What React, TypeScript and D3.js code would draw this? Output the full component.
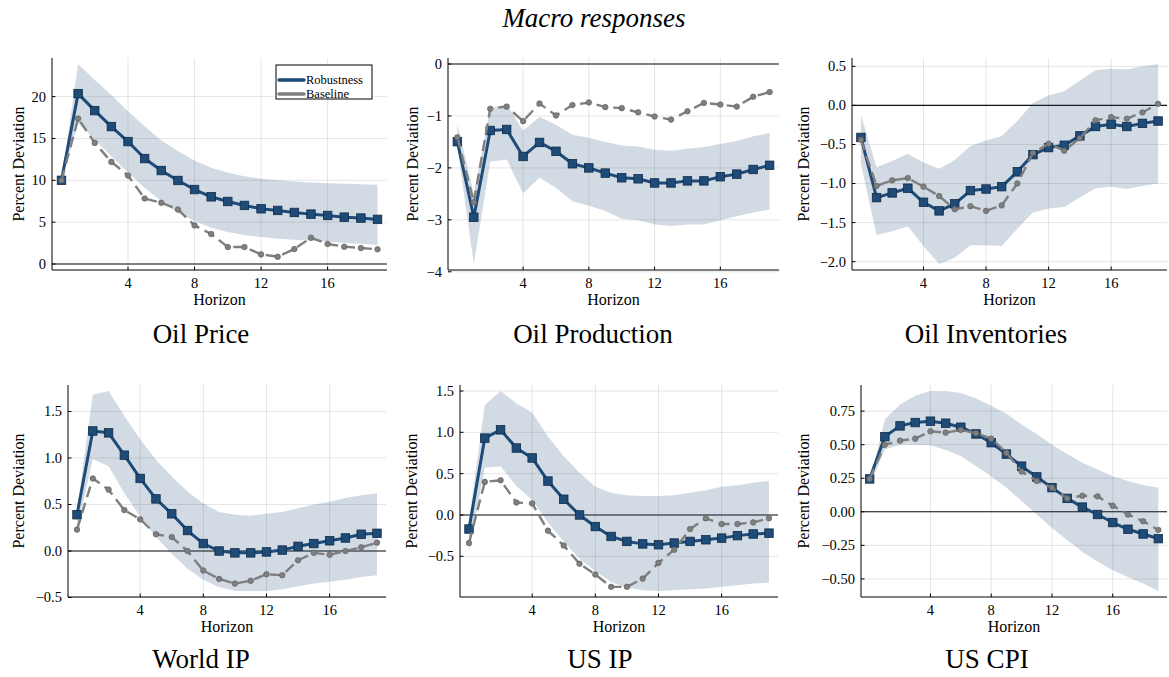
import React from "react";
import * as d3 from "d3";

// ---------- data ----------
const horizons = [0, 1, 2, 3, 4, 5, 6, 7, 8, 9, 10, 11, 12, 13, 14, 15, 16, 17, 18, 19];
const xTicks = [4, 8, 12, 16];
const titles = ["Oil Price", "Oil Production", "Oil Inventories", "World IP", "US IP", "US CPI"];
const seriesNames = ["Robustness", "Baseline"];

// Oil Price
const oilPriceRobust = [10.0, 20.36, 18.33, 16.42, 14.63, 12.6, 11.17, 9.98, 8.9, 8.03, 7.47, 7.0, 6.6, 6.4, 6.16, 5.96, 5.8, 5.6, 5.49, 5.33];
const oilPriceBase = [10.0, 17.38, 14.47, 12.2, 10.58, 7.83, 7.32, 6.52, 4.61, 3.58, 2.03, 2.03, 1.15, 0.87, 1.79, 3.14, 2.39, 2.07, 1.91, 1.75];
const oilPriceUpper = [10.0, 23.9, 22.0, 20.2, 18.25, 16.46, 14.75, 13.5, 12.37, 11.5, 10.9, 10.5, 10.18, 10.0, 9.86, 9.74, 9.66, 9.58, 9.54, 9.46];
const oilPriceLower = [10.0, 16.86, 14.87, 12.88, 10.9, 9.1, 7.5, 6.12, 5.13, 4.33, 3.82, 3.46, 3.22, 3.02, 2.9, 2.78, 2.66, 2.54, 2.43, 2.27];
const oilPriceTicks = [0, 5, 10, 15, 20];

// Oil Production
const oilProdRobust = [-1.495, -2.95, -1.28, -1.26, -1.78, -1.51, -1.68, -1.92, -2.0, -2.1, -2.19, -2.21, -2.29, -2.29, -2.25, -2.25, -2.17, -2.12, -2.03, -1.95];
const oilProdBase = [-1.41, -2.66, -0.86, -0.82, -1.1, -0.76, -0.99, -0.79, -0.74, -0.83, -0.85, -0.93, -1.01, -1.07, -0.91, -0.75, -0.78, -0.82, -0.63, -0.54];
const oilProdUpper = [-1.15, -2.5, -0.84, -0.78, -1.28, -1.02, -1.17, -1.36, -1.42, -1.5, -1.57, -1.59, -1.65, -1.67, -1.63, -1.6, -1.54, -1.48, -1.39, -1.33];
const oilProdLower = [-1.6, -3.85, -1.88, -1.84, -2.49, -2.19, -2.38, -2.64, -2.73, -2.83, -2.98, -3.01, -3.09, -3.12, -3.09, -3.09, -3.01, -2.93, -2.86, -2.8];
const oilProdTicks = [-4, -3, -2, -1, 0];

// Oil Inventories
const oilInvRobust = [-0.41, -1.18, -1.12, -1.06, -1.24, -1.35, -1.26, -1.09, -1.07, -1.04, -0.85, -0.63, -0.54, -0.51, -0.39, -0.27, -0.24, -0.27, -0.23, -0.2];
const oilInvBase = [-0.44, -1.03, -0.96, -0.93, -1.04, -1.16, -1.33, -1.29, -1.35, -1.28, -1.0, -0.61, -0.49, -0.58, -0.42, -0.19, -0.15, -0.17, -0.09, 0.02];
const oilInvUpper = [-0.12, -0.79, -0.71, -0.62, -0.73, -0.81, -0.7, -0.52, -0.45, -0.39, -0.2, 0.03, 0.13, 0.18, 0.32, 0.45, 0.47, 0.46, 0.5, 0.53];
const oilInvLower = [-0.75, -1.66, -1.61, -1.55, -1.8, -2.03, -1.95, -1.79, -1.79, -1.8, -1.58, -1.37, -1.32, -1.3, -1.18, -1.06, -1.04, -1.07, -1.03, -1.0];
const oilInvTicks = [-2.0, -1.5, -1.0, -0.5, 0.0, 0.5];

// World IP
const worldIpRobust = [0.39, 1.29, 1.27, 1.03, 0.78, 0.56, 0.4, 0.22, 0.08, 0.0, -0.02, -0.02, -0.01, 0.01, 0.05, 0.08, 0.11, 0.14, 0.18, 0.19];
const worldIpBase = [0.23, 0.78, 0.66, 0.44, 0.34, 0.18, 0.15, 0.0, -0.21, -0.3, -0.35, -0.32, -0.25, -0.26, -0.1, -0.02, -0.04, 0.0, 0.04, 0.09];
const worldIpUpper = [0.44, 1.68, 1.72, 1.45, 1.2, 0.98, 0.8, 0.64, 0.51, 0.42, 0.39, 0.38, 0.4, 0.42, 0.46, 0.5, 0.53, 0.57, 0.6, 0.62];
const worldIpLower = [0.22, 0.99, 0.91, 0.62, 0.37, 0.15, -0.03, -0.19, -0.31, -0.39, -0.43, -0.43, -0.43, -0.41, -0.38, -0.35, -0.33, -0.31, -0.28, -0.26];
const worldIpTicks = [-0.5, 0.0, 0.5, 1.0, 1.5];

// US IP
const usIpRobust = [-0.17, 0.93, 1.03, 0.81, 0.69, 0.41, 0.19, 0.0, -0.14, -0.26, -0.32, -0.35, -0.36, -0.34, -0.32, -0.3, -0.28, -0.25, -0.23, -0.22];
const usIpBase = [-0.34, 0.4, 0.42, 0.15, 0.14, -0.19, -0.37, -0.59, -0.72, -0.87, -0.87, -0.77, -0.58, -0.42, -0.17, -0.04, -0.11, -0.11, -0.09, -0.04];
const usIpUpper = [-0.06, 1.33, 1.5, 1.35, 1.24, 0.95, 0.71, 0.51, 0.34, 0.27, 0.24, 0.23, 0.23, 0.24, 0.27, 0.3, 0.34, 0.36, 0.39, 0.41];
const usIpLower = [-0.44, 0.57, 0.59, 0.35, 0.18, -0.09, -0.32, -0.53, -0.68, -0.81, -0.88, -0.91, -0.92, -0.91, -0.9, -0.89, -0.87, -0.85, -0.83, -0.82];
const usIpTicks = [-0.5, 0.0, 0.5, 1.0, 1.5];

// US CPI
const usCpiRobust = [0.245, 0.56, 0.64, 0.665, 0.675, 0.66, 0.63, 0.58, 0.515, 0.43, 0.34, 0.26, 0.18, 0.1, 0.035, -0.02, -0.08, -0.13, -0.165, -0.2];
const usCpiBase = [0.245, 0.5, 0.53, 0.545, 0.6, 0.59, 0.61, 0.585, 0.545, 0.44, 0.3, 0.23, 0.18, 0.1, 0.12, 0.115, 0.045, -0.02, -0.07, -0.135];
const usCpiUpper = [0.215, 0.69, 0.8, 0.865, 0.9, 0.9, 0.885, 0.845, 0.79, 0.73, 0.65, 0.58, 0.5, 0.43, 0.365, 0.315, 0.265, 0.23, 0.2, 0.18];
const usCpiLower = [0.195, 0.465, 0.5, 0.5, 0.495, 0.46, 0.415, 0.34, 0.265, 0.18, 0.08, -0.02, -0.12, -0.21, -0.3, -0.37, -0.435, -0.485, -0.535, -0.59];
const usCpiTicks = [-0.5, -0.25, 0.0, 0.25, 0.5, 0.75];

// ---------- styling / layout ----------
const BLUE = "#1e4b78";
const BLUE_DARK = "#0f2b47";
const GRAY = "#7f7f7f";
const GRAY_DARK = "#5a5a5a";
const FONT = "'Liberation Serif', 'DejaVu Serif', serif";

const panels = [
  { title: titles[0], robust: oilPriceRobust, base: oilPriceBase, upper: oilPriceUpper, lower: oilPriceLower, ticks: oilPriceTicks, fmt: "d",
    box: { l: 52, r: 387, t: 58, b: 270 }, ylabX: 18, titleX: 201, titleY: 343, legend: true },
  { title: titles[1], robust: oilProdRobust, base: oilProdBase, upper: oilProdUpper, lower: oilProdLower, ticks: oilProdTicks, fmt: "d",
    box: { l: 448, r: 779, t: 58, b: 270 }, ylabX: 412, titleX: 593, titleY: 343, legend: false },
  { title: titles[2], robust: oilInvRobust, base: oilInvBase, upper: oilInvUpper, lower: oilInvLower, ticks: oilInvTicks, fmt: ".1f",
    box: { l: 852, r: 1167, t: 58, b: 270 }, ylabX: 803, titleX: 986, titleY: 343, legend: false },
  { title: titles[3], robust: worldIpRobust, base: worldIpBase, upper: worldIpUpper, lower: worldIpLower, ticks: worldIpTicks, fmt: ".1f",
    box: { l: 68, r: 386, t: 385, b: 597 }, ylabX: 18, titleX: 201, titleY: 668, legend: false },
  { title: titles[4], robust: usIpRobust, base: usIpBase, upper: usIpUpper, lower: usIpLower, ticks: usIpTicks, fmt: ".1f",
    box: { l: 460, r: 778, t: 385, b: 597 }, ylabX: 411, titleX: 600, titleY: 668, legend: false },
  { title: titles[5], robust: usCpiRobust, base: usCpiBase, upper: usCpiUpper, lower: usCpiLower, ticks: usCpiTicks, fmt: ".2f",
    box: { l: 861, r: 1167, t: 385, b: 597 }, ylabX: 803, titleX: 987, titleY: 668, legend: false },
];

function Panel({ p, idx }: { p: any; idx: number }) {
  const { l, r, t, b } = p.box;
  const x0 = d3.min(horizons)!;
  const x1 = d3.max(horizons)!;
  const xPad = (x1 - x0) * 0.03;
  const x = d3.scaleLinear().domain([x0 - xPad, x1 + xPad]).range([l, r]);
  const all = [...p.robust, ...p.base, ...p.upper, ...p.lower, 0];
  const ymin = d3.min(all)!;
  const ymax = d3.max(all)!;
  const yPad = (ymax - ymin) * 0.03;
  const y = d3.scaleLinear().domain([ymin - yPad, ymax + yPad]).range([b, t]);
  const fmt = d3.format(p.fmt);
  const xFmt = d3.format("d");

  const area = d3
    .area<number>()
    .x((_, i) => x(horizons[i]))
    .y0((_, i) => y(p.lower[i]))
    .y1((_, i) => y(p.upper[i]));
  const line = d3
    .line<number>()
    .x((_, i) => x(horizons[i]))
    .y((d) => y(d));

  const clipId = `clip${idx}`;
  const sq = 8.5;

  return (
    <g>
      <defs>
        <clipPath id={clipId}>
          <rect x={l} y={t} width={r - l} height={b - t} />
        </clipPath>
      </defs>
      {/* grid */}
      {xTicks.map((v) => (
        <line key={"gx" + v} x1={x(v)} x2={x(v)} y1={t} y2={b} stroke="#000" strokeOpacity={0.1} strokeWidth={1} />
      ))}
      {p.ticks.map((v: number) => (
        <line key={"gy" + v} x1={l} x2={r} y1={y(v)} y2={y(v)} stroke="#000" strokeOpacity={0.1} strokeWidth={1} />
      ))}
      {/* zero line */}
      <line x1={l} x2={r} y1={y(0)} y2={y(0)} stroke="#111" strokeWidth={1.1} />
      <g clipPath={`url(#${clipId})`}>
        <path d={area(p.robust)!} fill={BLUE} fillOpacity={0.2} stroke="none" />
        <path d={line(p.robust)!} fill="none" stroke={BLUE} strokeWidth={3} strokeLinejoin="round" />
        {p.robust.map((v: number, i: number) => (
          <rect key={"s" + i} x={x(horizons[i]) - sq / 2} y={y(v) - sq / 2} width={sq} height={sq} fill={BLUE} stroke={BLUE_DARK} strokeWidth={0.8} />
        ))}
        <path d={line(p.base)!} fill="none" stroke={GRAY} strokeWidth={2.4} strokeDasharray="11,6" />
        {p.base.map((v: number, i: number) => (
          <circle key={"c" + i} cx={x(horizons[i])} cy={y(v)} r={2.8} fill={GRAY} stroke={GRAY_DARK} strokeWidth={0.6} />
        ))}
      </g>
      {/* axes */}
      <line x1={l} x2={l} y1={t} y2={b} stroke="#000" strokeWidth={1} />
      <line x1={l} x2={r} y1={b} y2={b} stroke="#000" strokeWidth={1} />
      {xTicks.map((v) => (
        <g key={"xt" + v}>
          <line x1={x(v)} x2={x(v)} y1={b} y2={b - 3.5} stroke="#000" strokeWidth={1} />
          <text x={x(v)} y={b + 18} textAnchor="middle" fontFamily={FONT} fontSize={14.5} fill="#000">
            {xFmt(v)}
          </text>
        </g>
      ))}
      {p.ticks.map((v: number) => (
        <g key={"yt" + v}>
          <line x1={l} x2={l + 3.5} y1={y(v)} y2={y(v)} stroke="#000" strokeWidth={1} />
          <text x={l - 6} y={y(v)} dy="0.34em" textAnchor="end" fontFamily={FONT} fontSize={14.5} fill="#000">
            {fmt(v)}
          </text>
        </g>
      ))}
      {/* axis labels */}
      <text x={(l + r) / 2} y={b + 35} textAnchor="middle" fontFamily={FONT} fontSize={16} fill="#000">
        Horizon
      </text>
      <text
        transform={`translate(${p.ylabX},${(t + b) / 2}) rotate(-90)`}
        textAnchor="middle"
        dy="0.35em"
        fontFamily={FONT}
        fontSize={16}
        fill="#000"
      >
        Percent Deviation
      </text>
      {/* panel title */}
      <text x={p.titleX} y={p.titleY} textAnchor="middle" fontFamily={FONT} fontSize={27} fill="#000">
        {p.title}
      </text>
      {p.legend && (
        <g>
          <rect x={276} y={65} width={96} height={34} fill="#fff" stroke="#000" strokeWidth={1} />
          <line x1={279} x2={304} y1={80} y2={80} stroke={BLUE} strokeWidth={3.5} strokeLinecap="round" />
          <text x={306} y={80} dy="0.34em" fontFamily={FONT} fontSize={12.5} fill="#000">
            {seriesNames[0]}
          </text>
          <line x1={279} x2={304} y1={94} y2={94} stroke={GRAY} strokeWidth={3.5} strokeLinecap="round" />
          <text x={306} y={94} dy="0.34em" fontFamily={FONT} fontSize={12.5} fill="#000">
            {seriesNames[1]}
          </text>
        </g>
      )}
    </g>
  );
}

export default function App() {
  return (
    <svg width={1169} height={677} style={{ position: "absolute", left: 0, top: 0, background: "#fff" }}>
      <rect x={0} y={0} width={1169} height={677} fill="#fff" />
      <text x={594} y={27} textAnchor="middle" fontFamily={FONT} fontStyle="italic" fontSize={27} fill="#000">
        Macro responses
      </text>
      {panels.map((p, i) => (
        <Panel key={i} p={p} idx={i} />
      ))}
    </svg>
  );
}
